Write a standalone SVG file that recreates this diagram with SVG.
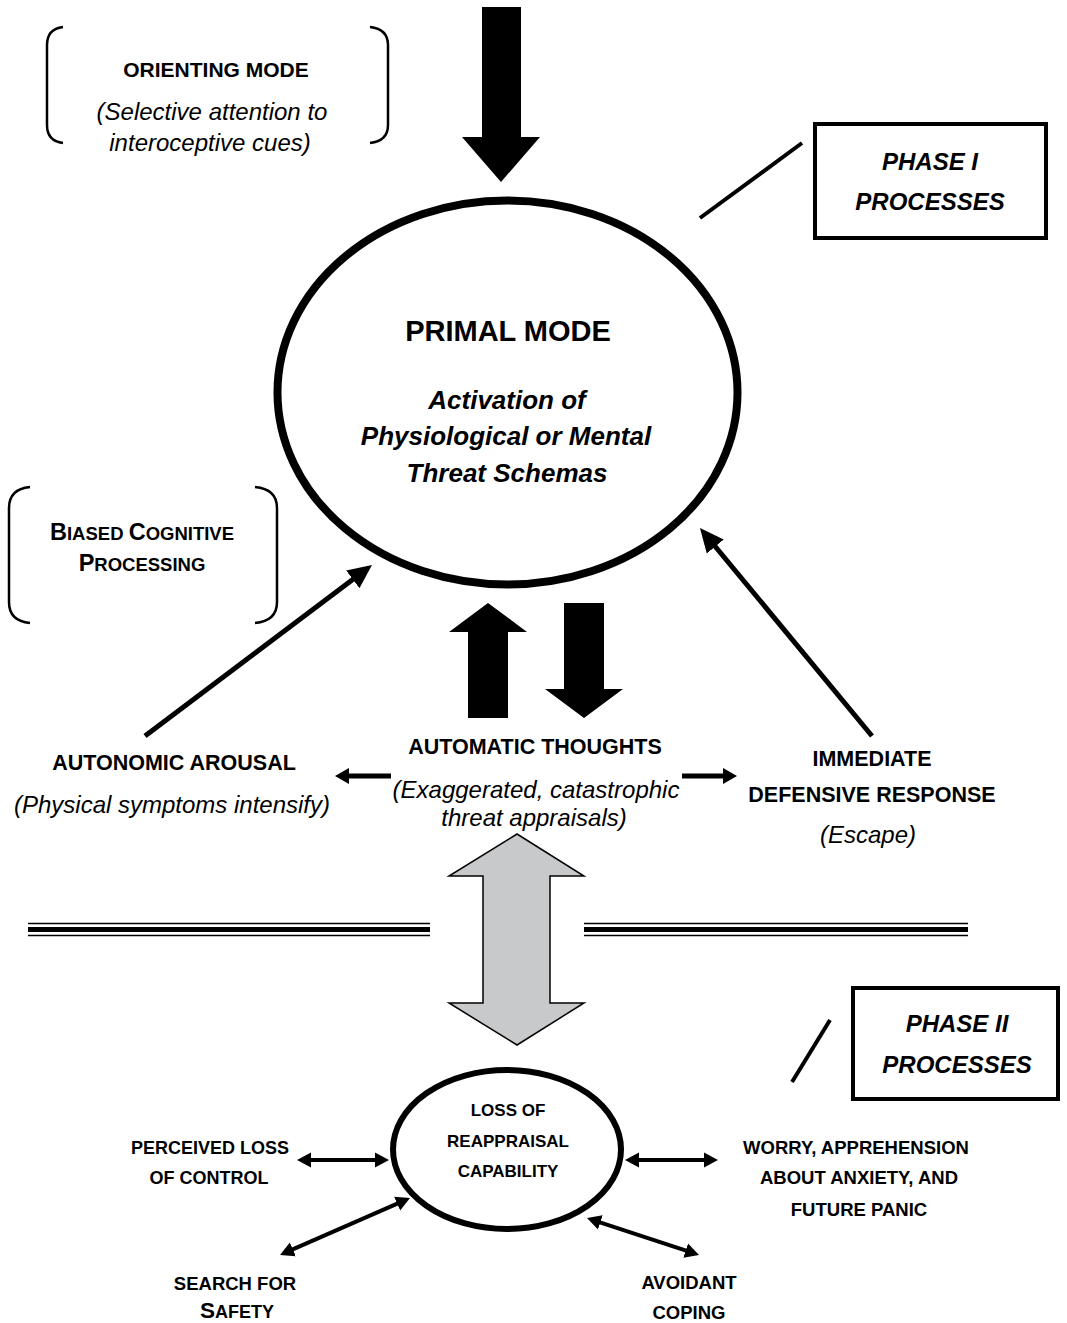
<svg xmlns="http://www.w3.org/2000/svg" width="1067" height="1323" viewBox="0 0 1067 1323">
  <defs>
    <style>
      text { font-family: "Liberation Sans", Arial, sans-serif; fill: #000; text-anchor: middle; }
      .b { font-weight: bold; }
      .i { font-style: italic; }
      .bi { font-weight: bold; font-style: italic; }
      .bracket { fill: none; stroke: #000; stroke-width: 2.5; }
      .conn { fill: none; stroke: #000; }
      .solid { fill: #000; stroke: none; }
    </style>
    <!-- large arrowhead for connectors into the primal mode ellipse -->
    <marker id="headL" markerUnits="userSpaceOnUse" viewBox="0 -12 26 24" refX="2" refY="0" markerWidth="26" markerHeight="24" orient="auto">
      <path d="M0,-11 L24,0 L0,11 Z" fill="#000"/>
    </marker>
    <!-- medium arrowhead for side connectors -->
    <marker id="headM" markerUnits="userSpaceOnUse" viewBox="0 -9 16 18" refX="2" refY="0" markerWidth="16" markerHeight="18" orient="auto">
      <path d="M0,-8 L14,0 L0,8 Z" fill="#000"/>
    </marker>
    <!-- small double-ended arrowhead for phase II connectors -->
    <marker id="headS" markerUnits="userSpaceOnUse" viewBox="0 -8 16 16" refX="2" refY="0" markerWidth="16" markerHeight="16" orient="auto-start-reverse">
      <path d="M0,-7.5 L14,0 L0,7.5 Z" fill="#000"/>
    </marker>
  </defs>

  <rect width="1067" height="1323" fill="#fff"/>

  <!-- Orienting mode -->
  <g id="orienting-mode">
    <path class="bracket" d="M63,27 Q47,29 47,45 L47,125 Q47,141 63,143"/>
    <path class="bracket" d="M370,27 Q388,29 388,45 L388,125 Q388,141 370,143"/>
    <text class="b" x="216" y="77" font-size="21">ORIENTING MODE</text>
    <text class="i" x="212" y="120" font-size="24">(Selective attention to</text>
    <text class="i" x="210" y="151" font-size="24">interoceptive cues)</text>
  </g>

  <!-- Phase I label -->
  <g id="phase-1">
    <rect x="815" y="124" width="231" height="114" fill="#fff" stroke="#000" stroke-width="4"/>
    <text class="bi" x="930" y="170" font-size="24">PHASE I</text>
    <text class="bi" x="930" y="210" font-size="24">PROCESSES</text>
  </g>

  <!-- Primal mode -->
  <g id="primal-mode">
    <ellipse cx="507.5" cy="392.5" rx="230" ry="192" fill="#fff" stroke="#000" stroke-width="8"/>
    <text class="b" x="508" y="341" font-size="29">PRIMAL MODE</text>
    <text class="bi" x="507" y="409" font-size="26">Activation of</text>
    <text class="bi" x="506" y="445" font-size="26">Physiological or Mental</text>
    <text class="bi" x="507" y="482" font-size="26">Threat Schemas</text>
  </g>

  <!-- Biased cognitive processing -->
  <g id="biased-processing">
    <path class="bracket" d="M30,487 Q9,489 9,508 L9,602 Q9,621 30,623"/>
    <path class="bracket" d="M255,487 Q277,489 277,508 L277,602 Q277,621 255,623"/>
    <text class="b" x="142" y="540" font-size="18.5"><tspan font-size="23.5">B</tspan>IASED <tspan font-size="23.5">C</tspan>OGNITIVE</text>
    <text class="b" x="142" y="571" font-size="18.5"><tspan font-size="23.5">P</tspan>ROCESSING</text>
  </g>

  <!-- Autonomic arousal -->
  <g id="autonomic-arousal">
    <text class="b" x="174" y="770" font-size="21.5">AUTONOMIC AROUSAL</text>
    <text class="i" x="172" y="813" font-size="24">(Physical symptoms intensify)</text>
  </g>

  <!-- Automatic thoughts -->
  <g id="automatic-thoughts">
    <text class="b" x="535" y="754" font-size="21.5">AUTOMATIC THOUGHTS</text>
    <text class="i" x="536" y="798" font-size="24">(Exaggerated, catastrophic</text>
    <text class="i" x="534" y="826" font-size="24">threat appraisals)</text>
  </g>

  <!-- Immediate defensive response -->
  <g id="defensive-response">
    <text class="b" x="872" y="766" font-size="21.5">IMMEDIATE</text>
    <text class="b" x="872" y="802" font-size="21.5">DEFENSIVE RESPONSE</text>
    <text class="i" x="868" y="843" font-size="24">(Escape)</text>
  </g>

  <!-- Phase separator -->
  <g id="phase-separator" stroke="#000" fill="none">
    <line x1="28" y1="923.5" x2="430" y2="923.5" stroke-width="1.5"/>
    <line x1="28" y1="929.5" x2="430" y2="929.5" stroke-width="5"/>
    <line x1="28" y1="935.5" x2="430" y2="935.5" stroke-width="1.5"/>
    <line x1="584" y1="923.5" x2="968" y2="923.5" stroke-width="1.5"/>
    <line x1="584" y1="929.5" x2="968" y2="929.5" stroke-width="5"/>
    <line x1="584" y1="935.5" x2="968" y2="935.5" stroke-width="1.5"/>
  </g>

  <!-- Phase II label -->
  <g id="phase-2">
    <rect x="853" y="988" width="205" height="111" fill="#fff" stroke="#000" stroke-width="4"/>
    <text class="bi" x="957" y="1032" font-size="24">PHASE II</text>
    <text class="bi" x="957" y="1073" font-size="24">PROCESSES</text>
  </g>

  <!-- Loss of reappraisal capability -->
  <g id="loss-of-reappraisal">
    <ellipse cx="507" cy="1149.5" rx="114" ry="79.5" fill="#fff" stroke="#000" stroke-width="6"/>
    <text class="b" x="508" y="1116" font-size="17">LOSS OF</text>
    <text class="b" x="508" y="1147" font-size="17">REAPPRAISAL</text>
    <text class="b" x="508" y="1177" font-size="17">CAPABILITY</text>
  </g>

  <g id="perceived-loss">
    <text class="b" x="210" y="1154" font-size="18">PERCEIVED LOSS</text>
    <text class="b" x="209" y="1184" font-size="18">OF CONTROL</text>
  </g>

  <g id="worry">
    <text class="b" x="856" y="1154" font-size="18.5">WORRY, APPREHENSION</text>
    <text class="b" x="859" y="1184" font-size="18.5">ABOUT ANXIETY, AND</text>
    <text class="b" x="859" y="1216" font-size="18.5">FUTURE PANIC</text>
  </g>

  <g id="search-for-safety">
    <text class="b" x="235" y="1290" font-size="18.5">SEARCH FOR</text>
    <text class="b" x="237" y="1318" font-size="18"><tspan font-size="22.5">S</tspan>AFETY</text>
  </g>

  <g id="avoidant-coping">
    <text class="b" x="689" y="1289" font-size="18.5">AVOIDANT</text>
    <text class="b" x="689" y="1319" font-size="18.5">COPING</text>
  </g>

  <!-- Connectors -->
  <g id="connectors">
    <!-- input into primal mode -->
    <polygon class="solid" points="482,7 521,7 521,137 540,137 501,182 462,137 482,137"/>
    <!-- block arrows between primal mode and automatic thoughts -->
    <polygon class="solid" points="468,718 508,718 508,632 527,632 488,603 449,632 468,632"/>
    <polygon class="solid" points="564,603 604,603 604,689 623,689 584,718 545,689 564,689"/>
    <!-- feedback into primal mode -->
    <line class="conn" x1="145" y1="736" x2="354.4" y2="578.2" stroke-width="5" marker-end="url(#headL)"/>
    <line class="conn" x1="872" y1="736" x2="714" y2="545" stroke-width="5" marker-end="url(#headL)"/>
    <!-- automatic thoughts to side outcomes -->
    <line class="conn" x1="391" y1="776" x2="347" y2="776" stroke-width="5" marker-end="url(#headM)"/>
    <line class="conn" x1="682" y1="776" x2="725" y2="776" stroke-width="5" marker-end="url(#headM)"/>
    <!-- link between phases -->
    <polygon points="517,834 584,876 550,876 550,1003 584,1003 517,1045 449,1003 483,1003 483,876 449,876" fill="#c8c9cb" stroke="#000" stroke-width="1.5" stroke-linejoin="miter"/>
    <!-- phase label pointers -->
    <line class="conn" x1="700" y1="218" x2="802" y2="143" stroke-width="4"/>
    <line class="conn" x1="792" y1="1082" x2="830" y2="1020" stroke-width="4"/>
    <!-- phase II two-way links -->
    <line class="conn" x1="309" y1="1160" x2="377" y2="1160" stroke-width="4" marker-start="url(#headS)" marker-end="url(#headS)"/>
    <line class="conn" x1="637" y1="1160" x2="706" y2="1160" stroke-width="4" marker-start="url(#headS)" marker-end="url(#headS)"/>
    <line class="conn" x1="291" y1="1250.2" x2="399" y2="1202.8" stroke-width="4" marker-start="url(#headS)" marker-end="url(#headS)"/>
    <line class="conn" x1="598.4" y1="1221.8" x2="687.6" y2="1251.2" stroke-width="4" marker-start="url(#headS)" marker-end="url(#headS)"/>
  </g>
</svg>
